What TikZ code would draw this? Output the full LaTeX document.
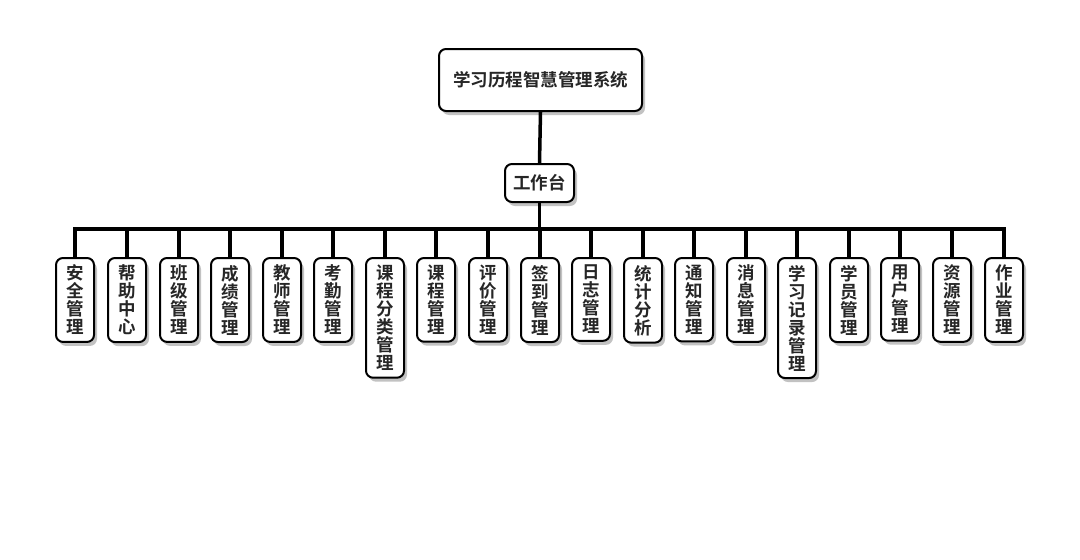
\documentclass[tikz,border=0pt]{standalone}
\usepackage{fontspec}
\newfontfamily\cjk{Noto Sans CJK SC}[BoldFont={Noto Sans CJK SC Bold}]
\usetikzlibrary{shadows}
\tikzset{
  box/.style={draw=black, line width=2pt, fill=white, rounded corners=7pt,
    font=\cjk\bfseries\fontsize{17.5}{18}\selectfont, text=black!85,
    drop shadow={shadow xshift=3pt, shadow yshift=-4pt, opacity=0.4, fill=black!60}},
  topbox/.style={box, minimum width=203pt, minimum height=62pt},
  workbox/.style={box, minimum width=69pt, minimum height=38pt, inner sep=2pt},
  leaf/.style={box, anchor=north, minimum width=38pt, text width=20pt, align=center, inner xsep=2pt, inner ysep=7pt},
  conn/.style={line width=3.5pt, draw=black}
}
\begin{document}
\begin{tikzpicture}[x=1pt,y=-1pt]
\useasboundingbox (0,0) rectangle (1080,560);
\node[topbox] (top) at (540.5,80) {学习历程智慧管理系统};
\node[workbox] (work) at (539.5,183) {工作台};
\coordinate (bus) at (539.5,229);
\node[leaf] (l1) at (75,257) {安\\全\\管\\理};
\node[leaf] (l2) at (127,257) {帮\\助\\中\\心};
\node[leaf] (l3) at (179,257) {班\\级\\管\\理};
\node[leaf] (l4) at (230,257) {成\\绩\\管\\理};
\node[leaf] (l5) at (282,257) {教\\师\\管\\理};
\node[leaf] (l6) at (333,257) {考\\勤\\管\\理};
\node[leaf] (l7) at (385,257) {课\\程\\分\\类\\管\\理};
\node[leaf] (l8) at (436,257) {课\\程\\管\\理};
\node[leaf] (l9) at (488,257) {评\\价\\管\\理};
\node[leaf] (l10) at (540,257) {签\\到\\管\\理};
\node[leaf] (l11) at (591,257) {日\\志\\管\\理};
\node[leaf] (l12) at (643,257) {统\\计\\分\\析};
\node[leaf] (l13) at (694,257) {通\\知\\管\\理};
\node[leaf] (l14) at (746,257) {消\\息\\管\\理};
\node[leaf] (l15) at (797,257) {学\\习\\记\\录\\管\\理};
\node[leaf] (l16) at (849,257) {学\\员\\管\\理};
\node[leaf] (l17) at (900,257) {用\\户\\管\\理};
\node[leaf] (l18) at (952,257) {资\\源\\管\\理};
\node[leaf] (l19) at (1004,257) {作\\业\\管\\理};
\draw[conn] (top.south) -- (work.north);
\draw[conn] (work.south) -- (bus);
\foreach \i in {1,...,19} {
  \draw[conn] (l\i.north) |- (bus);
}
\end{tikzpicture}
\end{document}
